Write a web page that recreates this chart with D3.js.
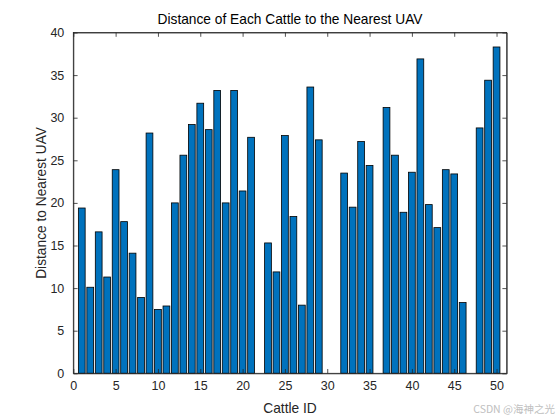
<!DOCTYPE html>
<html>
<head>
<meta charset="utf-8">
<script src="https://cdn.jsdelivr.net/npm/d3@7"></script>
<style>
  body { margin: 0; background: #fff; }
  text { font-family: "Liberation Sans", Arial, sans-serif; }
</style>
</head>
<body>
<div id="chart"></div>
<script>
// data
var cattleIds = d3.range(1, 51);
var distances = [
  19.4, 10.1, 16.6, 11.3, 23.9, 17.8, 14.1, 8.9, 28.2, 7.5,
  7.9, 20.0, 25.6, 29.2, 31.7, 28.6, 33.2, 20.0, 33.2, 21.4,
  27.7, 0, 15.3, 11.9, 27.9, 18.4, 8.0, 33.6, 27.4, 0,
  0, 23.5, 19.5, 27.2, 24.4, 0, 31.2, 25.6, 18.9, 23.6,
  36.9, 19.8, 17.1, 23.9, 23.4, 8.3, 0, 28.8, 34.4, 38.3
];
var xTicks = [0, 5, 10, 15, 20, 25, 30, 35, 40, 45, 50];
var yTicks = [0, 5, 10, 15, 20, 25, 30, 35, 40];

var svgWidth = 560;
var svgHeight = 420;
var margin = { top: 32.5, right: 53.3, bottom: 46.7, left: 73.3 };
var width = svgWidth - margin.left - margin.right;
var height = svgHeight - margin.top - margin.bottom;
var axisColor = "#262626";
var tickLen = 4.3;

var svg = d3.select("#chart")
  .append("svg")
  .attr("width", svgWidth)
  .attr("height", svgHeight);

var chartGroup = svg.append("g")
  .attr("transform", `translate(${margin.left}, ${margin.top})`);

var xScale = d3.scaleLinear().domain([0, 51.2]).range([0, width]);
var yScale = d3.scaleLinear().domain([0, 40]).range([height, 0]);
var barW = xScale(0.8) - xScale(0);

// bars
chartGroup.selectAll(".bar")
  .data(cattleIds)
  .enter()
  .append("rect")
  .attr("class", "bar")
  .attr("x", d => xScale(d) - barW / 2)
  .attr("y", (d, i) => yScale(distances[i]))
  .attr("width", barW)
  .attr("height", (d, i) => yScale(0) - yScale(distances[i]))
  .attr("fill", "#0072BD")
  .attr("stroke", "#000")
  .attr("stroke-width", 0.8);

// axes, ticks pointing inward like matlab
var xAxis = d3.axisBottom(xScale).tickValues(xTicks).tickSizeInner(-tickLen).tickSizeOuter(0).tickPadding(8);
var yAxis = d3.axisLeft(yScale).tickValues(yTicks).tickSizeInner(-tickLen).tickSizeOuter(0).tickPadding(9);
var xTop = d3.axisTop(xScale).tickValues(xTicks).tickSizeInner(-tickLen).tickSizeOuter(0).tickFormat("");
var yRight = d3.axisRight(yScale).tickValues(yTicks).tickSizeInner(-tickLen).tickSizeOuter(0).tickFormat("");

chartGroup.append("g").attr("transform", `translate(0, ${height})`).call(xAxis);
chartGroup.append("g").call(yAxis);
chartGroup.append("g").call(xTop);
chartGroup.append("g").attr("transform", `translate(${width}, 0)`).call(yRight);

chartGroup.selectAll(".domain, .tick line")
  .attr("stroke", axisColor)
  .attr("stroke-width", 0.8);
chartGroup.selectAll(".tick text")
  .attr("fill", axisColor)
  .attr("font-size", "12.5px");

// box
chartGroup.append("rect")
  .attr("width", width)
  .attr("height", height)
  .attr("fill", "none")
  .attr("stroke", axisColor)
  .attr("stroke-width", 0.8);

// title
svg.append("text")
  .attr("x", margin.left + width / 2)
  .attr("y", 23.5)
  .attr("text-anchor", "middle")
  .attr("font-size", "13.75px")
  .attr("fill", "#000")
  .text("Distance of Each Cattle to the Nearest UAV");

// x label
svg.append("text")
  .attr("x", margin.left + width / 2)
  .attr("y", 413)
  .attr("text-anchor", "middle")
  .attr("font-size", "13.75px")
  .attr("fill", axisColor)
  .text("Cattle ID");

// y label
svg.append("text")
  .attr("transform", `translate(46, ${margin.top + height / 2}) rotate(-90)`)
  .attr("text-anchor", "middle")
  .attr("font-size", "13.75px")
  .attr("fill", axisColor)
  .text("Distance to Nearest UAV");

// watermark
svg.append("text")
  .attr("x", 555)
  .attr("y", 413)
  .attr("text-anchor", "end")
  .attr("font-size", "10.5px")
  .attr("fill", "#c0c0c0")
  .style("font-family", "'Noto Sans CJK SC', 'Liberation Sans', sans-serif")
  .text("CSDN @海神之光");
</script>
</body>
</html>
